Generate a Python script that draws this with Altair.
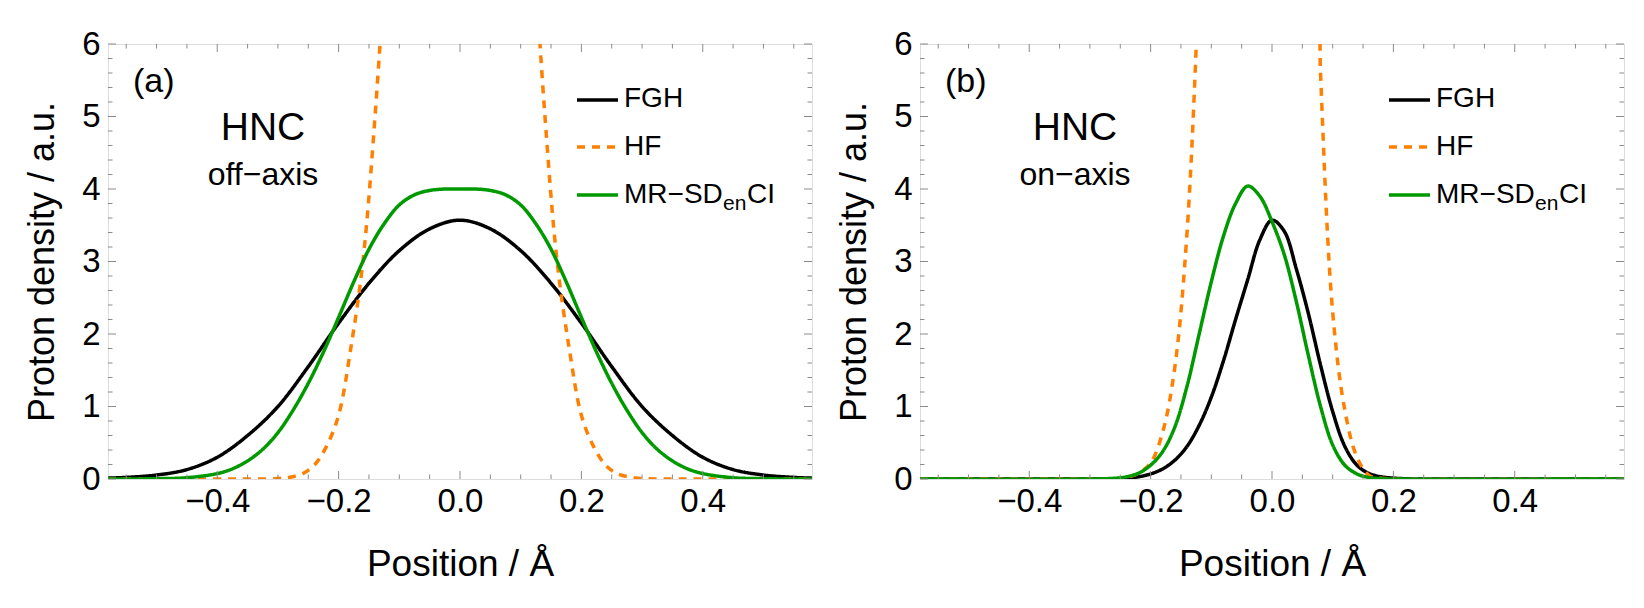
import altair as alt
import pandas as pd

# ---------------- data ----------------
series_names = ["FGH", "HF", "MR-SDenCI"]

# panel (a) off-axis
a_fgh_x = [-0.58, -0.55, -0.50, -0.45, -0.40, -0.35, -0.30, -0.25, -0.20, -0.15, -0.10, -0.05, 0.0,
           0.05, 0.10, 0.15, 0.20, 0.25, 0.30, 0.35, 0.40, 0.45, 0.50, 0.55, 0.58]
a_fgh_y = [0.012, 0.022, 0.055, 0.13, 0.3, 0.6, 1.0, 1.55, 2.15, 2.7, 3.15, 3.45, 3.57,
           3.45, 3.15, 2.7, 2.15, 1.55, 1.0, 0.6, 0.3, 0.13, 0.055, 0.022, 0.012]

a_hf_x = [-0.58, -0.40, -0.35, -0.30, -0.28, -0.26, -0.24, -0.22, -0.20, -0.18, -0.16, -0.14, -0.12, -0.10,
          0.10, 0.12, 0.14, 0.16, 0.18, 0.20, 0.22, 0.24, 0.26, 0.28, 0.30, 0.35, 0.40, 0.58]
a_hf_y = [0.0, 0.0, 0.0, 0.006, 0.025, 0.07, 0.19, 0.45, 0.88, 1.8, 3.0, 5.0, 7.6, 10.5,
          10.5, 7.6, 5.0, 3.0, 1.8, 0.88, 0.45, 0.19, 0.07, 0.025, 0.006, 0.0, 0.0, 0.0]

a_mr_x = [-0.58, -0.50, -0.45, -0.40, -0.375, -0.35, -0.325, -0.30, -0.275, -0.25, -0.225, -0.20, -0.175,
          -0.15, -0.125, -0.10, -0.075, -0.05, -0.025, 0.0, 0.025, 0.05, 0.075, 0.10, 0.125, 0.15,
          0.175, 0.20, 0.225, 0.25, 0.275, 0.30, 0.325, 0.35, 0.375, 0.40, 0.45, 0.50, 0.58]
a_mr_y = [0.0, 0.004, 0.018, 0.075, 0.14, 0.25, 0.41, 0.64, 0.95, 1.32, 1.75, 2.23, 2.72,
          3.17, 3.52, 3.78, 3.92, 3.98, 4.0, 4.0, 4.0, 3.98, 3.92, 3.78, 3.52, 3.17,
          2.72, 2.23, 1.75, 1.32, 0.95, 0.64, 0.41, 0.25, 0.14, 0.075, 0.018, 0.004, 0.0]

# panel (b) on-axis
b_fgh_x = [-0.58, -0.30, -0.26, -0.24, -0.22, -0.20, -0.18, -0.16, -0.14, -0.12, -0.10, -0.08, -0.06, -0.04,
           -0.02, 0.0, 0.02, 0.04, 0.06, 0.08, 0.10, 0.12, 0.14, 0.16, 0.18, 0.20, 0.22, 0.26, 0.58]
b_fgh_y = [0.0, 0.0, 0.003, 0.01, 0.03, 0.07, 0.14, 0.26, 0.45, 0.74, 1.13, 1.63, 2.2, 2.75,
           3.3, 3.57, 3.42, 2.9, 2.28, 1.57, 0.93, 0.45, 0.19, 0.075, 0.03, 0.012, 0.004, 0.0, 0.0]

b_hf_x = [-0.58, -0.30, -0.26, -0.24, -0.22, -0.20, -0.18, -0.16, -0.14, -0.12, -0.10,
          0.06, 0.08, 0.10, 0.12, 0.14, 0.16, 0.18, 0.20, 0.58]
b_hf_y = [0.0, 0.0, 0.003, 0.02, 0.08, 0.22, 0.65, 1.55, 3.4, 7.0, 12.0,
          11.0, 5.6, 2.3, 0.95, 0.3, 0.05, 0.01, 0.0, 0.0]

b_mr_x = [-0.58, -0.30, -0.26, -0.24, -0.22, -0.20, -0.18, -0.16, -0.14, -0.12, -0.10, -0.08, -0.06,
          -0.04, -0.02, 0.0, 0.02, 0.04, 0.06, 0.08, 0.10, 0.12, 0.14, 0.16, 0.18, 0.20, 0.58]
b_mr_y = [0.0, 0.0, 0.01, 0.03, 0.08, 0.19, 0.38, 0.72, 1.28, 2.0, 2.72, 3.35, 3.8,
          4.04, 3.9, 3.55, 3.1, 2.45, 1.7, 1.0, 0.47, 0.19, 0.07, 0.02, 0.005, 0.0, 0.0]

# axis ticks
x_major = [-0.4, -0.2, 0.0, 0.2, 0.4]
x_minor = [-0.55, -0.5, -0.45, -0.35, -0.3, -0.25, -0.15, -0.1, -0.05,
           0.05, 0.1, 0.15, 0.25, 0.3, 0.35, 0.45, 0.5, 0.55]
y_major = [0, 1, 2, 3, 4, 5, 6]
y_minor = [0.2, 0.4, 0.6, 0.8, 1.2, 1.4, 1.6, 1.8, 2.2, 2.4, 2.6, 2.8, 3.2, 3.4, 3.6, 3.8,
           4.2, 4.4, 4.6, 4.8, 5.2, 5.4, 5.6, 5.8]

# ---------------- styling ----------------
W, H = 704, 435
FONT = "Liberation Sans"
COLORS = ["#000000", "#FF7F00", "#009900"]
FRAME = "#8a8a8a"
LW = 3.5


def lines_df(xs_list, ys_list):
    rows = []
    for name, xs, ys in zip(series_names, xs_list, ys_list):
        for xv, yv in zip(xs, ys):
            rows.append({"x": xv, "y": yv, "s": name})
    return pd.DataFrame(rows)


xscale = alt.Scale(domain=[-0.58, 0.58], nice=False, zero=False)
yscale = alt.Scale(domain=[0, 6], nice=False, zero=False)

xaxis = alt.Axis(values=x_major, format=".1f", ticks=False, domain=False, grid=False,
                 labelFont=FONT, labelFontSize=33, labelPadding=6, labelColor="#000",
                 title="Position / Å", titleFont=FONT, titleFontSize=37, titleFontWeight="normal",
                 titleColor="#000", titleY=96, titleBaseline="alphabetic")
yaxis = alt.Axis(values=y_major, format="d", ticks=False, domain=False, grid=False,
                 labelFont=FONT, labelFontSize=33, labelPadding=8, labelColor="#000",
                 title="Proton density / a.u.", titleFont=FONT, titleFontSize=36,
                 titleFontWeight="normal", titleColor="#000", titleX=-55,
                 titleBaseline="alphabetic", titleAngle=-90)

one = pd.DataFrame({"k": [0]})


def txt(text, x, y, size, align="left"):
    return alt.Chart(one).mark_text(text=text, font=FONT, fontSize=size, align=align,
                                    baseline="alphabetic", color="#000").encode(
        x=alt.value(x), y=alt.value(y))


def panel(xs_list, ys_list, tag, sub):
    df = lines_df(xs_list, ys_list)
    X = alt.X("x:Q", scale=xscale, axis=xaxis)
    Y = alt.Y("y:Q", scale=yscale, axis=yaxis)
    lines = alt.Chart(df).mark_line(strokeWidth=LW, clip=True, interpolate="catmull-rom").encode(
        x=X, y=Y,
        color=alt.Color("s:N", scale=alt.Scale(domain=series_names, range=COLORS), legend=None),
        strokeDash=alt.StrokeDash("s:N", scale=alt.Scale(domain=series_names,
                                                         range=[[1, 0], [8, 7], [1, 0]]), legend=None),
        order=alt.Order("x:Q"),
    )
    ticks = []
    for vals, ln in ((x_major, 8), (x_minor, 4.5)):
        d = pd.DataFrame({"x": vals})
        ticks.append(alt.Chart(d).mark_rule(color=FRAME, strokeWidth=1).encode(
            x=X, y=alt.value(H), y2=alt.value(H - ln)))
        ticks.append(alt.Chart(d).mark_rule(color=FRAME, strokeWidth=1).encode(
            x=X, y=alt.value(0), y2=alt.value(ln)))
    for vals, ln in ((y_major, 8), (y_minor, 4.5)):
        d = pd.DataFrame({"y": vals})
        ticks.append(alt.Chart(d).mark_rule(color=FRAME, strokeWidth=1).encode(
            y=Y, x=alt.value(0), x2=alt.value(ln)))
        ticks.append(alt.Chart(d).mark_rule(color=FRAME, strokeWidth=1).encode(
            y=Y, x=alt.value(W), x2=alt.value(W - ln)))

    leg = []
    ly = [56, 103, 151]
    for i in range(3):
        leg.append(alt.Chart(one).mark_rule(color=COLORS[i], strokeWidth=LW,
                                            strokeDash=[8, 7] if i == 1 else [1, 0]).encode(
            x=alt.value(469), x2=alt.value(510), y=alt.value(ly[i])))
    leg.append(txt("FGH", 516, 63, 28))
    leg.append(txt("HF", 516, 111, 28))
    leg.append(txt("MR−SD", 516, 159, 28))
    leg.append(txt("en", 615, 166, 21))
    leg.append(txt("CI", 639, 159, 28))

    ann = [txt(tag, 25, 48, 34), txt("HNC", 155, 96, 39, "center"), txt(sub, 155, 141, 32, "center")]

    return alt.layer(lines, *ticks, *leg, *ann).properties(width=W, height=H)


left = panel([a_fgh_x, a_hf_x, a_mr_x], [a_fgh_y, a_hf_y, a_mr_y], "(a)", "off−axis")
right = panel([b_fgh_x, b_hf_x, b_mr_x], [b_fgh_y, b_hf_y, b_mr_y], "(b)", "on−axis")

chart = alt.hconcat(left, right, spacing=22).properties(
    padding={"left": 15, "top": 19, "right": 5, "bottom": 5}
).configure_view(stroke=FRAME, strokeWidth=1.2).configure(background="white")

chart.save("out.html", embed_options={"renderer": "svg", "actions": False})
